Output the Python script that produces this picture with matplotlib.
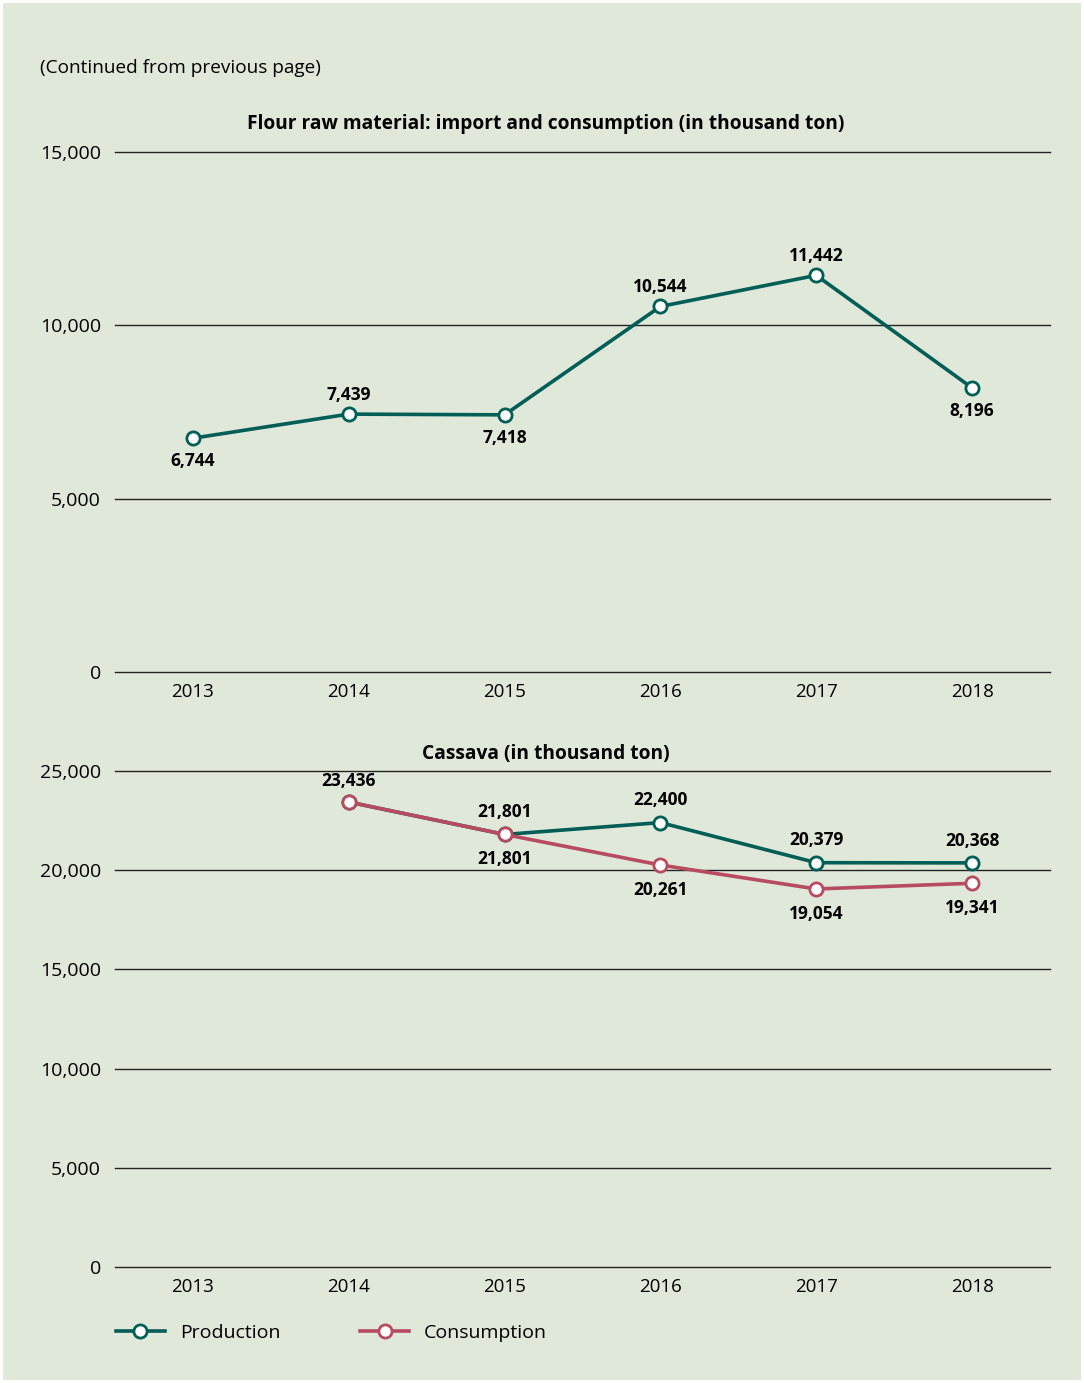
import numpy as np
import matplotlib.pyplot as plt
from matplotlib.lines import Line2D

years = ['2013', '2014', '2015', '2016', '2017', '2018']

flour_import = [6744, 7439, 7418, 10544, 11442, 8196]
flour_pos = ['below', 'above', 'below', 'above', 'above', 'below']

cassava_production = [np.nan, 23436, 21801, 22400, 20379, 20368]
cassava_consumption = [np.nan, 23436, 21801, 20261, 19054, 19341]
prod_pos = [None, None, 'above', 'above', 'above', 'above']
cons_pos = [None, 'above', 'below', 'below', 'below', 'below']

teal = '#005e57'
red = '#b74b60'
bg = '#e0e8d9'

plt.rcParams['font.family'] = ['Open Sans', 'DejaVu Sans']

fig = plt.figure(figsize=(10.84, 13.83), dpi=100)
fig.patch.set_facecolor('white')
fig.patches.append(plt.Rectangle((3 / 1084, 3 / 1383), 1 - 6 / 1084, 1 - 6 / 1383,
                                 transform=fig.transFigure, facecolor=bg,
                                 edgecolor='none', zorder=-10))

x = np.arange(len(years))


def style(ax, ticks):
    ax.set_facecolor('none')
    ax.set_xlim(-0.5, 5.5)
    ax.set_ylim(ticks[0], ticks[-1])
    ax.set_yticks(ticks)
    ax.set_yticklabels([f'{t:,}' for t in ticks], fontsize=14)
    ax.set_xticks(x)
    ax.set_xticklabels(years, fontsize=13.5)
    for s in ax.spines.values():
        s.set_visible(False)
    ax.tick_params(length=0, pad=10)
    ax.tick_params(axis='x', pad=8)
    for t in ticks:
        ax.axhline(t, color='#222222', linewidth=1, zorder=0, clip_on=False)


def label(ax, xi, v, pos, up=14, down=16.5):
    off = up if pos == 'above' else -down
    ax.annotate(f'{v:,}', (xi, v), xytext=(0, off), textcoords='offset points',
                ha='center', va='center', fontsize=12.5, fontweight='bold')


ax1 = fig.add_axes([115 / 1084, 1 - 672 / 1383, 935 / 1084, 520 / 1383])
style(ax1, [0, 5000, 10000, 15000])
ax1.plot(x, flour_import, color=teal, lw=2.6, marker='o', ms=9.5,
         mfc='white', mec=teal, mew=2)
for xi, v, p in zip(x, flour_import, flour_pos):
    label(ax1, xi, v, p)

ax2 = fig.add_axes([115 / 1084, 1 - 1267 / 1383, 935 / 1084, 496 / 1383])
style(ax2, [0, 5000, 10000, 15000, 20000, 25000])
ax2.plot(x, cassava_production, color=teal, lw=2.6, marker='o', ms=9.5,
         mfc='white', mec=teal, mew=2, zorder=3)
ax2.plot(x, cassava_consumption, color=red, lw=2.6, marker='o', ms=9.5,
         mfc='white', mec=red, mew=2, zorder=4)
for xi, v, p in zip(x, cassava_production, prod_pos):
    if p:
        label(ax2, xi, v, p, up=16)
for xi, v, p in zip(x, cassava_consumption, cons_pos):
    if p:
        label(ax2, xi, v, p, up=15, down=18)

fig.text(40 / 1084, 1 - 68 / 1383, '(Continued from previous page)',
         fontsize=13.7, va='center', ha='left')
fig.text(546 / 1084, 1 - 124 / 1383,
         'Flour raw material: import and consumption (in thousand ton)',
         fontsize=13.8, fontweight='bold', ha='center', va='center')
fig.text(546 / 1084, 1 - 754 / 1383, 'Cassava (in thousand ton)',
         fontsize=13.8, fontweight='bold', ha='center', va='center')

handles = [Line2D([], [], color=teal, lw=2.6, marker='o', ms=9.5, mfc='white',
                  mec=teal, mew=2),
           Line2D([], [], color=red, lw=2.6, marker='o', ms=9.5, mfc='white',
                  mec=red, mew=2)]
fig.legend(handles, ['Production', 'Consumption'], loc='center left',
           bbox_to_anchor=(98 / 1084, 1 - 1333 / 1383), ncol=2, frameon=False,
           fontsize=14, handlelength=2.55, columnspacing=4.1, handletextpad=0.75)

fig.savefig('out.png', dpi=100, facecolor=fig.get_facecolor())
